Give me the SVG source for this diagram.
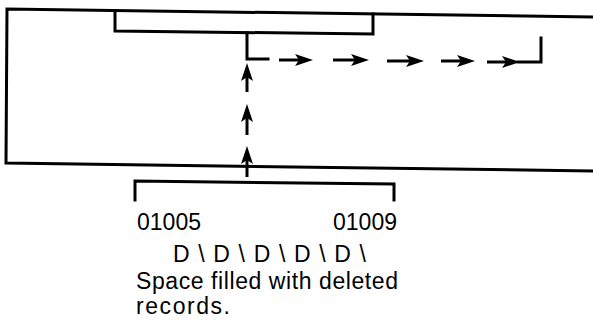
<svg xmlns="http://www.w3.org/2000/svg" width="593" height="329" viewBox="0 0 593 329">
<style>
.ln{fill:none;stroke:#000;stroke-width:3;stroke-linecap:square;stroke-linejoin:miter}
.ar{fill:none;stroke:#000;stroke-width:3;stroke-linecap:butt}
.t{font-family:"Liberation Sans",Arial,sans-serif;font-size:23px;fill:#000}
</style>
<defs>
<marker id="ah" viewBox="0 0 18 12" refX="10" refY="6" markerWidth="18" markerHeight="12" markerUnits="userSpaceOnUse" orient="auto">
<path d="M0,0 L18,6 L0,12 L4,6 Z" fill="#000"/>
</marker>
</defs>
<rect width="593" height="329" fill="#fff"/>
<g id="record-area">
<path class="ln" d="M593,17 L7,9 L6,163 L593,171"/>
</g>
<g id="inner-bracket">
<path class="ln" d="M115,11 L115,31 L373,34 L373,14"/>
</g>
<g id="deleted-block">
<path class="ln" d="M135,200 L135,181 L394,184 L394,200"/>
<text class="t" x="137" y="230" textLength="64" lengthAdjust="spacingAndGlyphs">01005</text>
<text class="t" x="333" y="230" textLength="64" lengthAdjust="spacingAndGlyphs">01009</text>
<text class="t" x="173" y="262" textLength="193" lengthAdjust="spacing">D \ D \ D \ D \ D \</text>
<text class="t" x="136" y="289" textLength="262" lengthAdjust="spacing">Space filled with deleted</text>
<text class="t" x="136" y="314" textLength="94" lengthAdjust="spacing">records.</text>
</g>
<g id="connectors">
<path class="ln" d="M247,33 L247,59 L268,59"/>
<path class="ar" d="M279,60 L305,60" marker-end="url(#ah)"/>
<path class="ar" d="M333,60 L361,60" marker-end="url(#ah)"/>
<path class="ar" d="M387,61 L416,61" marker-end="url(#ah)"/>
<path class="ar" d="M441,61 L467,61" marker-end="url(#ah)"/>
<path class="ar" d="M487,62 L512,62" marker-end="url(#ah)"/>
<path class="ln" d="M518,62 L541,62 L541,38"/>
<path class="ar" d="M247,92 L247,71" marker-end="url(#ah)"/>
<path class="ar" d="M247,135 L247,112" marker-end="url(#ah)"/>
<path class="ar" d="M247,177 L247,154" marker-end="url(#ah)"/>
</g>
</svg>
